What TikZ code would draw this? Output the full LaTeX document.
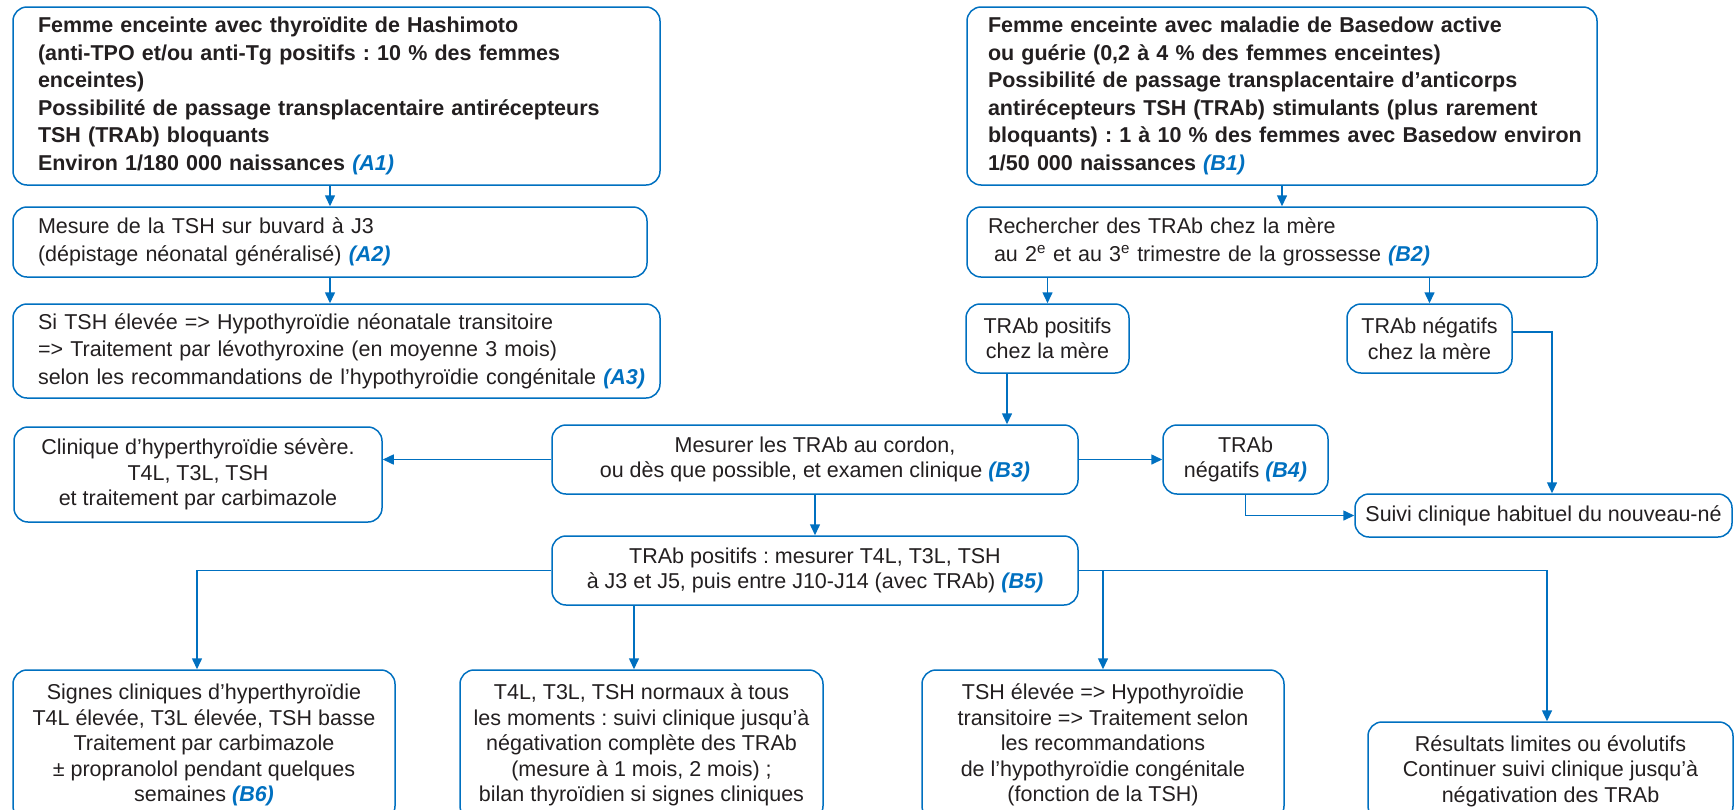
\documentclass[tikz,border=0pt]{standalone}
\usepackage{fontspec}
\setmainfont{Liberation Sans}
\usetikzlibrary{arrows.meta}
\definecolor{myblue}{RGB}{0,112,192}
\definecolor{txt}{RGB}{35,31,32}
\newcommand{\reflab}[1]{\textcolor{myblue}{\textbf{\textit{(#1)}}}}
\frenchspacing
\begin{document}
\begin{tikzpicture}[x=1pt,y=-1pt,
  box/.style={draw=myblue, line width=1.5pt, rounded corners=14pt, inner sep=0pt, text=txt,
    font=\fontsize{21.5}{25.5}\selectfont},
  lbox/.style={box, align=left, font=\fontsize{21.5}{27.5}\selectfont},
  bbox/.style={box, align=left, font=\fontsize{21.5}{27.5}\selectfont\bfseries},
  cbox/.style={box, align=center},
  arr/.style={draw=myblue, line width=1.5pt, -{Triangle[length=11pt,width=10pt]}}]
\useasboundingbox (0,0) rectangle (1736,809);

% top left column
\node[bbox, minimum width=647pt, minimum height=178pt, text width=597pt] (A1) at (336.5,96)
 {\begin{tabular}{@{}l@{}}Femme enceinte avec thyroïdite de Hashimoto\\
 (anti-TPO et/ou anti-Tg positifs : 10 \% des femmes\\
 enceintes)\\
 Possibilité de passage transplacentaire antirécepteurs\\
 TSH (TRAb) bloquants\\
 Environ 1/180 000 naissances \reflab{A1}\end{tabular}};
\node[lbox, minimum width=634pt, minimum height=70pt, text width=584pt] (A2) at (330,242)
 {\begin{tabular}{@{}l@{}}Mesure de la TSH sur buvard à J3\\
 (dépistage néonatal généralisé) \reflab{A2}\end{tabular}};
\node[lbox, minimum width=647pt, minimum height=94pt, text width=597pt] (A3) at (336.5,351)
 {\begin{tabular}{@{}l@{}}Si TSH élevée => Hypothyroïdie néonatale transitoire\\
 => Traitement par lévothyroxine (en moyenne 3 mois)\\
 selon les recommandations de l’hypothyroïdie congénitale \reflab{A3}\end{tabular}};

% top right column
\node[bbox, minimum width=630pt, minimum height=178pt, text width=588pt] (B1) at (1282,96)
 {\begin{tabular}{@{}l@{}}Femme enceinte avec maladie de Basedow active\\
 ou guérie (0,2 à 4 \% des femmes enceintes)\\
 Possibilité de passage transplacentaire d’anticorps\\
 antirécepteurs TSH (TRAb) stimulants (plus rarement\\
 bloquants) : 1 à 10 \% des femmes avec Basedow environ\\
 1/50 000 naissances \reflab{B1}\end{tabular}};
\node[lbox, minimum width=630pt, minimum height=70pt, text width=588pt] (B2) at (1282,242)
 {\begin{tabular}{@{}l@{}}Rechercher des TRAb chez la mère\\
 \hspace{6pt}au 2\textsuperscript{e} et au 3\textsuperscript{e} trimestre de la grossesse \reflab{B2}\end{tabular}};
\node[cbox, minimum width=163pt, minimum height=69pt] (Pos) at (1047.5,338.5)
 {TRAb positifs\\chez la mère};
\node[cbox, minimum width=165pt, minimum height=69pt] (Neg) at (1429.5,338.5)
 {TRAb négatifs\\chez la mère};

% middle
\node[cbox, minimum width=368pt, minimum height=95pt] (Clin) at (198,474.5)
 {Clinique d’hyperthyroïdie sévère.\\T4L, T3L, TSH\\et traitement par carbimazole};
\node[cbox, minimum width=526pt, minimum height=69pt] (B3) at (815,459.5)
 {Mesurer les TRAb au cordon,\\ou dès que possible, et examen clinique \reflab{B3}};
\node[cbox, minimum width=165pt, minimum height=69pt] (B4) at (1245.5,459.5)
 {TRAb\\négatifs \reflab{B4}};
\node[cbox, minimum width=377pt, minimum height=43pt] (Suivi) at (1543.5,515.5)
 {Suivi clinique habituel du nouveau-né};
\node[cbox, minimum width=526pt, minimum height=69pt] (B5) at (815,570.5)
 {TRAb positifs : mesurer T4L, T3L, TSH\\à J3 et J5, puis entre J10-J14 (avec TRAb) \reflab{B5}};

% bottom row (boxes run past the lower edge of the picture)
\node[cbox, minimum width=382pt, minimum height=150pt] (B6) at (204,745)
 {Signes cliniques d’hyperthyroïdie\\T4L élevée, T3L élevée, TSH basse\\Traitement par carbimazole\\± propranolol pendant quelques\\semaines \reflab{B6}};
\node[cbox, minimum width=363pt, minimum height=150pt] (Norm) at (641.5,745)
 {T4L, T3L, TSH normaux à tous\\les moments : suivi clinique jusqu’à\\négativation complète des TRAb\\(mesure à 1 mois, 2 mois) ;\\bilan thyroïdien si signes cliniques};
\node[cbox, minimum width=362pt, minimum height=150pt] (TSHe) at (1103,745)
 {TSH élevée => Hypothyroïdie\\transitoire => Traitement selon\\les recommandations\\de l’hypothyroïdie congénitale\\(fonction de la TSH)};
\node[cbox, minimum width=365pt, minimum height=98pt] (Res) at (1550.5,771)
 {Résultats limites ou évolutifs\\Continuer suivi clinique jusqu’à\\négativation des TRAb};

% helper coordinates
\coordinate (kP) at (1007,0);
\coordinate (kN) at (1552,332);
\coordinate (k6) at (197,0);
\coordinate (k7) at (634,0);
\coordinate (k9) at (1547,0);

% connectors
\draw[arr] (A1.south -| A2.north) -- (A2.north);
\draw[arr] (A2.south) -- (A3.north -| A2.south);
\draw[arr] (B1.south) -- (B2.north);
\draw[arr] (B2.south -| Pos.north) -- (Pos.north);
\draw[arr] (B2.south -| Neg.north) -- (Neg.north);
\draw[arr] (Pos.south -| kP) -- (B3.north -| kP);
\draw[arr] (Neg.east |- kN) -| (Suivi.north -| kN);
\draw[arr] (B3.west) -- (B3.west -| Clin.east);
\draw[arr] (B3.east) -- (B4.west);
\draw[arr] (B4.south) |- (Suivi.west);
\draw[arr] (B3.south) -- (B5.north);
\draw[arr] (B5.west) -| (B6.north -| k6);
\draw[arr] (B5.south -| k7) -- (Norm.north -| k7);
\draw[arr] (B5.east) -| (Res.north -| k9);
\draw[arr] (B5.east -| TSHe.north) -- (TSHe.north);
\end{tikzpicture}
\end{document}
